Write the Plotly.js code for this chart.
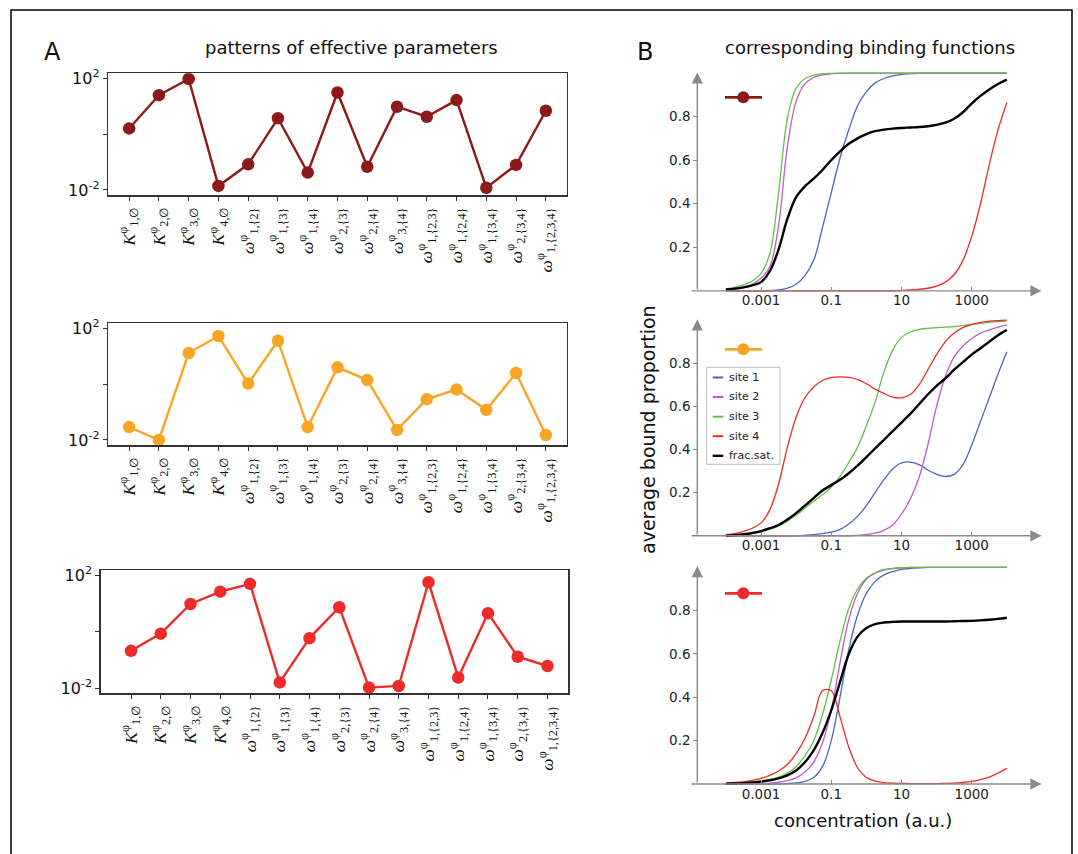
<!DOCTYPE html>
<html><head><meta charset="utf-8">
<script src="https://cdn.plot.ly/plotly-3.0.1.min.js"></script>
<style>html,body{margin:0;padding:0;background:#fff}#chart{width:1078px;height:854px}</style>
</head><body><div id="chart"></div>
<script>
// ---- Panel A: effective parameters ----
const paramLabels = [
  "<i>K</i><sup>φ</sup><sub>1,∅</sub>",
  "<i>K</i><sup>φ</sup><sub>2,∅</sub>",
  "<i>K</i><sup>φ</sup><sub>3,∅</sub>",
  "<i>K</i><sup>φ</sup><sub>4,∅</sub>",
  "<i>ω</i><sup>φ</sup><sub>1,{2}</sub>",
  "<i>ω</i><sup>φ</sup><sub>1,{3}</sub>",
  "<i>ω</i><sup>φ</sup><sub>1,{4}</sub>",
  "<i>ω</i><sup>φ</sup><sub>2,{3}</sub>",
  "<i>ω</i><sup>φ</sup><sub>2,{4}</sub>",
  "<i>ω</i><sup>φ</sup><sub>3,{4}</sub>",
  "<i>ω</i><sup>φ</sup><sub>1,{2,3}</sub>",
  "<i>ω</i><sup>φ</sup><sub>1,{2,4}</sub>",
  "<i>ω</i><sup>φ</sup><sub>1,{3,4}</sub>",
  "<i>ω</i><sup>φ</sup><sub>2,{3,4}</sub>",
  "<i>ω</i><sup>φ</sup><sub>1,{2,3,4}</sub>"
];
const pattern1 = [1.6, 25, 95, 0.014, 0.083, 3.7, 0.042, 31, 0.068, 9.6, 4.2, 16.6, 0.012, 0.079, 6.9];
const pattern2 = [0.029, 0.01, 13, 53, 1.05, 36, 0.029, 4, 1.4, 0.023, 0.29, 0.64, 0.12, 2.5, 0.015];
const pattern3 = [0.21, 0.85, 9.5, 26, 49, 0.016, 0.59, 7.3, 0.0105, 0.012, 56, 0.024, 4.5, 0.13, 0.061];
const yTickVals = [0.01, 1, 100];
const yTickText = ["10<sup>-2</sup>", "", "10<sup>2</sup>"];

// ---- Panel B: binding functions (concentration in a.u.) ----
const concentration = [1e-4, 1.778e-4, 3.162e-4, 5.623e-4, 1e-3, 1.778e-3, 3.162e-3, 5.623e-3,
  1e-2, 1.778e-2, 3.162e-2, 5.623e-2, 0.1, 0.1778, 0.3162, 0.5623, 1, 1.778, 3.162, 5.623,
  10, 17.78, 31.62, 56.23, 100, 177.8, 316.2, 562.3, 1000, 1778, 3162, 5623, 10000];
const concTicks = [0.001, 0.1, 10, 1000];
const concTickText = ["0.001", "0.1", "10", "1000"];
const fracTicks = [0.2, 0.4, 0.6, 0.8];

// pattern 1
const b1Site1 = [0,0,0,0,0,0.001,0.004,0.012,0.03,0.07,0.14,0.29,0.45,0.61,0.74,0.85,0.915,0.955,0.975,0.987,0.994,0.997,0.999,1,1,1,1,1,1,1,1,1,1];
const b1Site2 = [0.005,0.008,0.015,0.03,0.058,0.11,0.3,0.66,0.87,0.95,0.98,0.992,0.997,0.999,1,1,1,1,1,1,1,1,1,1,1,1,1,1,1,1,1,1,1];
const b1Site3 = [0.01,0.016,0.027,0.045,0.08,0.17,0.45,0.79,0.93,0.975,0.99,0.997,0.999,1,1,1,1,1,1,1,1,1,1,1,1,1,1,1,1,1,1,1,1];
const b1Site4 = [0,0,0,0,0,0,0,0,0,0,0,0,0,0,0,0,0,0,0,0,0.002,0.004,0.007,0.012,0.022,0.04,0.075,0.14,0.25,0.4,0.58,0.74,0.865];
const b1Frac  = [0.006,0.01,0.016,0.025,0.04,0.09,0.19,0.33,0.43,0.48,0.515,0.555,0.6,0.64,0.675,0.7,0.72,0.733,0.74,0.745,0.748,0.75,0.752,0.756,0.762,0.772,0.79,0.82,0.86,0.895,0.925,0.95,0.97];
// pattern 2
const b2Site1 = [0,0,0,0,0,0,0,0,0,0.002,0.005,0.01,0.017,0.03,0.055,0.09,0.14,0.2,0.26,0.31,0.338,0.342,0.33,0.305,0.285,0.275,0.285,0.33,0.42,0.53,0.64,0.75,0.853];
const b2Site2 = [0,0,0,0,0,0,0,0,0,0,0,0,0,0,0,0.002,0.005,0.012,0.025,0.05,0.1,0.17,0.27,0.42,0.6,0.74,0.83,0.88,0.915,0.94,0.955,0.968,0.978];
const b2Site3 = [0.001,0.002,0.005,0.01,0.018,0.03,0.045,0.068,0.095,0.128,0.16,0.19,0.225,0.275,0.34,0.41,0.51,0.62,0.76,0.86,0.92,0.945,0.957,0.962,0.965,0.968,0.97,0.975,0.98,0.985,0.99,0.993,0.995];
const b2Site4 = [0.005,0.01,0.02,0.035,0.06,0.12,0.24,0.41,0.55,0.64,0.69,0.72,0.733,0.737,0.735,0.725,0.705,0.68,0.66,0.643,0.64,0.655,0.7,0.77,0.84,0.9,0.94,0.965,0.98,0.99,0.995,0.998,1];
const b2Frac  = [0,0.003,0.007,0.013,0.022,0.035,0.05,0.075,0.105,0.14,0.175,0.21,0.235,0.26,0.29,0.325,0.365,0.405,0.445,0.485,0.525,0.565,0.61,0.655,0.695,0.73,0.77,0.805,0.84,0.87,0.9,0.93,0.955];
// pattern 3
const b3Site1 = [0,0,0,0,0,0,0,0.002,0.005,0.012,0.03,0.08,0.2,0.4,0.62,0.78,0.88,0.935,0.965,0.98,0.99,0.995,0.998,1,1,1,1,1,1,1,1,1,1];
const b3Site2 = [0,0,0.001,0.001,0.002,0.004,0.008,0.015,0.028,0.055,0.1,0.19,0.34,0.56,0.76,0.88,0.945,0.973,0.987,0.994,0.998,1,1,1,1,1,1,1,1,1,1,1,1];
const b3Site3 = [0.002,0.004,0.006,0.01,0.015,0.022,0.032,0.05,0.08,0.13,0.2,0.32,0.48,0.66,0.81,0.9,0.95,0.975,0.99,0.995,0.998,1,1,1,1,1,1,1,1,1,1,1,1];
const b3Site4 = [0.004,0.007,0.011,0.017,0.026,0.04,0.06,0.09,0.14,0.21,0.31,0.43,0.43,0.31,0.17,0.075,0.03,0.013,0.006,0.004,0.003,0.002,0.002,0.002,0.002,0.003,0.004,0.007,0.012,0.02,0.032,0.05,0.072];
const b3Frac  = [0.001,0.002,0.004,0.007,0.011,0.017,0.026,0.04,0.062,0.1,0.155,0.235,0.34,0.47,0.6,0.68,0.72,0.738,0.745,0.748,0.75,0.75,0.75,0.75,0.75,0.75,0.751,0.752,0.753,0.755,0.758,0.762,0.767];

const siteNames = ["site 1", "site 2", "site 3", "site 4", "frac.sat."];
const siteColors = ["#4a66c0", "#c05cc4", "#62c048", "#f22a2a", "#000000"];
const patternColors = ["#8c1a1a", "#f8a526", "#ee2a2a"];

const W = 1078, H = 854;
const px = v => v / W;
const py = v => 1 - v / H;
const FONT = "DejaVu Sans";

const traces = [];
const patterns = [pattern1, pattern2, pattern3];
patterns.forEach((p, i) => {
  const n = i === 0 ? "" : String(i + 1);
  traces.push({
    x: paramLabels, y: p, xaxis: "x" + n, yaxis: "y" + n,
    mode: "lines+markers", showlegend: false,
    line: {color: patternColors[i], width: 2.4},
    marker: {color: patternColors[i], size: 12.5}
  });
});
const binding = [
  [b1Site1, b1Site2, b1Site3, b1Site4, b1Frac],
  [b2Site1, b2Site2, b2Site3, b2Site4, b2Frac],
  [b3Site1, b3Site2, b3Site3, b3Site4, b3Frac]
];
binding.forEach((set, pi) => {
  set.forEach((ys, si) => {
    traces.push({
      x: concentration, y: ys, xaxis: "x" + (pi + 4), yaxis: "y" + (pi + 4),
      mode: "lines", name: siteNames[si], showlegend: false,
      line: {color: siteColors[si], width: si === 4 ? 2.4 : 1.3, shape: "spline", smoothing: 1}
    });
  });
});

const layout = {
  width: W, height: H, margin: {l: 0, r: 0, t: 0, b: 0},
  paper_bgcolor: "#fff", plot_bgcolor: "#fff",
  font: {family: FONT, color: "#222"},
  annotations: [], shapes: []
};

// left panels
const leftDom = [
  {x: [px(108.3), px(566.7)], y: [py(195), py(73.3)], r: [-0.7, 14.7]},
  {x: [px(108.3), px(566.7)], y: [py(445), py(323.3)], r: [-0.7, 14.7]},
  {x: [px(100.7), px(568.3)], y: [py(693.3), py(570)], r: [-1.02, 14.7]}
];
leftDom.forEach((d, i) => {
  const n = i === 0 ? "" : String(i + 1);
  layout["xaxis" + n] = {
    domain: d.x, range: d.r, type: "category", anchor: "y" + n,
    showline: true, mirror: true, linecolor: "#333", linewidth: 1.5,
    ticks: "outside", ticklen: 4, tickcolor: "#333", tickangle: -90,
    showgrid: false, zeroline: false,
    tickfont: {family: "Liberation Serif", size: 17.5, color: "#111"}
  };
  layout["yaxis" + n] = {
    domain: d.y, range: [-2.18, 2.18], type: "log", anchor: "x" + n,
    showline: true, mirror: true, linecolor: "#333", linewidth: 1.5,
    ticks: "outside", ticklen: 4, tickcolor: "#333",
    tickvals: yTickVals, ticktext: yTickText,
    showgrid: false, zeroline: false,
    tickfont: {family: FONT, size: 16, color: "#111"}
  };
});

// right panels
const rightDom = [
  {y: [py(300), py(65)], r: [-0.042, 1.037], zero: py(290.8), mark: 97.3, tip: 1.003},
  {y: [py(545), py(310)], r: [-0.0427, 1.047], zero: py(535.8), mark: 349.3, tip: 1.004},
  {y: [py(795), py(555)], r: [-0.0508, 1.0568], zero: py(784), mark: 593.3, tip: 1.006}
];
const axisGrey = "#8a8a8a";
rightDom.forEach((d, i) => {
  const n = String(i + 4);
  layout["xaxis" + n] = {
    domain: [px(690), px(1045)], range: [-5.022, 5.087], type: "log",
    anchor: "free", position: d.zero,
    showline: false, showgrid: false, zeroline: false,
    ticks: "inside", ticklen: 4, tickcolor: axisGrey,
    tickvals: concTicks, ticktext: concTickText,
    tickfont: {family: FONT, size: 13.5, color: "#222"}
  };
  layout["yaxis" + n] = {
    domain: d.y, range: d.r, anchor: "free", position: px(697.3),
    showline: false, showgrid: false, zeroline: false,
    ticks: "outside", ticklen: 4, tickcolor: axisGrey,
    tickvals: fracTicks, tickformat: ".1f",
    tickfont: {family: FONT, size: 13.5, color: "#222"}
  };
  // arrowed axes (Mathematica style)
  layout.annotations.push({
    xref: "x" + n, yref: "y" + n, axref: "x" + n, ayref: "y" + n,
    x: 4.99, y: 0, ax: -5.02, ay: 0, text: "", showarrow: true,
    arrowhead: 2, arrowsize: 1.6, arrowwidth: 1.4, arrowcolor: axisGrey, standoff: 0, startstandoff: 0
  });
  layout.annotations.push({
    xref: "x" + n, yref: "y" + n, axref: "x" + n, ayref: "y" + n,
    x: -4.814, y: d.tip, ax: -4.814, ay: 0, text: "", showarrow: true,
    arrowhead: 2, arrowsize: 1.6, arrowwidth: 1.4, arrowcolor: axisGrey, standoff: 0, startstandoff: 0
  });
  // pattern indicator (line with dot)
  layout.shapes.push({type: "line", xref: "paper", yref: "paper",
    x0: px(725), x1: px(762), y0: py(d.mark), y1: py(d.mark),
    line: {color: patternColors[i], width: 2.8}});
  layout.shapes.push({type: "circle", xref: "paper", yref: "paper",
    x0: px(737.3), x1: px(749.3), y0: py(d.mark + 6), y1: py(d.mark - 6),
    fillcolor: patternColors[i], line: {color: patternColors[i], width: 0}});
});

// site legend (panel B middle)
layout.shapes.push({type: "rect", xref: "paper", yref: "paper",
  x0: px(706.7), x1: px(780), y0: py(464.3), y1: py(367.3),
  fillcolor: "#fff", line: {color: "#bdbdbd", width: 1}});
const legRows = [377.5, 397, 416.7, 436.2, 455.8];
siteNames.forEach((nm, k) => {
  layout.shapes.push({type: "line", xref: "paper", yref: "paper",
    x0: px(712.7), x1: px(723.3), y0: py(legRows[k]), y1: py(legRows[k]),
    line: {color: siteColors[k], width: k === 4 ? 2.4 : 2}});
  layout.annotations.push({xref: "paper", yref: "paper", x: px(727), y: py(legRows[k]),
    xanchor: "left", yanchor: "middle", text: nm, showarrow: false,
    font: {family: FONT, size: 11, color: "#222"}});
});

// frame
layout.shapes.push({type: "rect", xref: "paper", yref: "paper",
  x0: px(11), x1: px(1072), y0: -0.05, y1: py(10),
  line: {color: "#000", width: 1.5}, fillcolor: "rgba(0,0,0,0)"});

// text labels
const txt = (x, y, t, size, extra) => Object.assign({xref: "paper", yref: "paper", x: px(x), y: py(y),
  text: t, showarrow: false, xanchor: "center", yanchor: "middle",
  font: {family: FONT, size: size, color: "#111"}}, extra || {});
layout.annotations.push(txt(52, 52, "A", 24));
layout.annotations.push(txt(645, 52, "B", 24));
layout.annotations.push(txt(351.5, 48, "patterns of effective parameters", 18));
layout.annotations.push(txt(870, 48, "corresponding binding functions", 18));
layout.annotations.push(txt(648, 430, "average bound proportion", 19, {textangle: -90}));
layout.annotations.push(txt(862.5, 820, "concentration (a.u.)", 18));

Plotly.newPlot("chart", traces, layout, {staticPlot: true, displayModeBar: false});
</script>
</body></html>
